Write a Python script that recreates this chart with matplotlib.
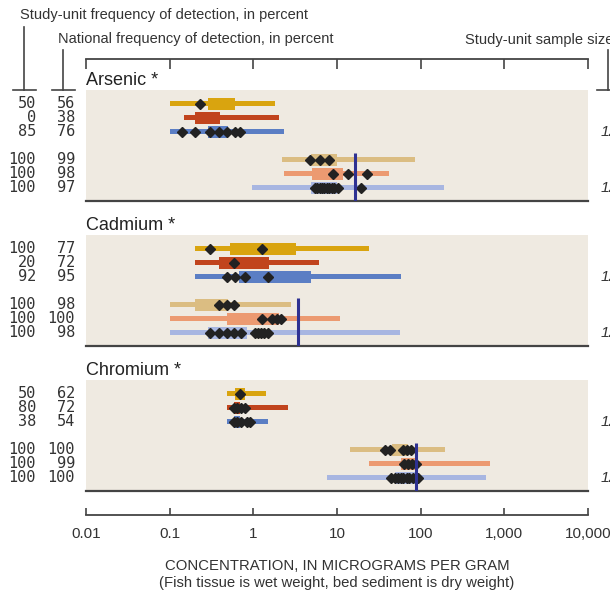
import matplotlib
matplotlib.use("Agg")
import matplotlib.pyplot as plt
from matplotlib.lines import Line2D
from matplotlib.ticker import FixedLocator, FixedFormatter
from matplotlib.transforms import blended_transform_factory

W, H = 610, 592

# ---- data ----
elements = ["Arsenic *", "Cadmium *", "Chromium *"]
row_pos = [0, 1, 2, 4, 5, 6]
row_colors = ["#D9A40F", "#C1441D", "#5B7EC4", "#DBBD82", "#EC9A71", "#A8B6E1"]

study_freq = {
    "Arsenic *": [50, 0, 85, 100, 100, 100],
    "Cadmium *": [100, 20, 92, 100, 100, 100],
    "Chromium *": [50, 80, 38, 100, 100, 100],
}
national_freq = {
    "Arsenic *": [56, 38, 76, 99, 98, 97],
    "Cadmium *": [77, 72, 95, 98, 100, 98],
    "Chromium *": [62, 72, 54, 100, 99, 100],
}
# sample sizes are cut off at the right edge of the picture
sample_size = {
    "Arsenic *": ["12", "12"],
    "Cadmium *": ["12", "12"],
    "Chromium *": ["12", "12"],
}
whisker_lo = {
    "Arsenic *": [0.1, 0.147, 0.1, 2.2, 2.3, 0.97],
    "Cadmium *": [0.2, 0.2, 0.2, 0.1, 0.1, 0.1],
    "Chromium *": [0.49, 0.49, 0.49, 14.3, 24, 7.6],
}
whisker_hi = {
    "Arsenic *": [1.8, 2.0, 2.3, 85, 42, 190],
    "Cadmium *": [24, 6.1, 58, 2.8, 10.9, 56],
    "Chromium *": [1.43, 2.6, 1.5, 193, 680, 610],
}
box_lo = {
    "Arsenic *": [0.29, 0.20, 0.29, 4.9, 5.0, 4.9],
    "Cadmium *": [0.52, 0.39, 0.68, 0.2, 0.49, 0.29],
    "Chromium *": [0.61, 0.58, 0.58, 46, 58, 50],
}
box_hi = {
    "Arsenic *": [0.61, 0.40, 0.50, 10, 11.8, 10],
    "Cadmium *": [3.2, 1.55, 4.9, 0.5, 2.0, 0.83],
    "Chromium *": [0.80, 0.70, 0.70, 70, 85, 85],
}
detects = {
    "Arsenic *": [[0.23], [], [0.14, 0.20, 0.30, 0.39, 0.49, 0.61, 0.70],
                  [4.8, 6.3, 8.0], [9.0, 13.5, 22.8],
                  [5.4, 5.8, 6.2, 6.6, 7.0, 7.5, 8.0, 8.6, 9.3, 10.2, 19.3]],
    "Cadmium *": [[0.30, 1.28], [0.59], [0.49, 0.61, 0.80, 1.5],
                  [0.39, 0.49, 0.59], [1.28, 1.68, 1.94, 2.15],
                  [0.30, 0.39, 0.49, 0.59, 0.72, 1.06, 1.14, 1.24, 1.34, 1.5]],
    "Chromium *": [[0.70], [0.58, 0.64, 0.72, 0.80], [0.58, 0.64, 0.72, 0.83, 0.92],
                   [37, 43, 61, 68, 76], [64, 71, 78, 87],
                   [44, 49, 53, 58, 62, 68, 73, 80, 92]],
}
guideline = {"Arsenic *": 16.4, "Cadmium *": 3.4, "Chromium *": 87}

xticks = [0.01, 0.1, 1, 10, 100, 1000, 10000]
xtick_labels = ["0.01", "0.1", "1", "10", "100", "1,000", "10,000"]

# ---- layout (pixel boxes) ----
X0, X1 = 86, 588
panel_tops = [90, 235, 380]
PANEL_H = 111

SANS = "Liberation Sans"
MONO = "DejaVu Sans Mono"
TXT = "#333333"
BG = "#EFEAE1"
FS = 10.5

plt.rcParams["font.family"] = SANS

fig = plt.figure(figsize=(W / 100, H / 100), dpi=100)


def box(left, top, right, bottom):
    return [left / W, 1 - bottom / H, (right - left) / W, (bottom - top) / H]


def pline(xs, ys, lw=1.2):
    fig.add_artist(Line2D([x / W for x in xs], [1 - y / H for y in ys],
                          transform=fig.transFigure, color="#444444", lw=lw))


for el, top in zip(elements, panel_tops):
    ax = fig.add_axes(box(X0, top, X1, top + PANEL_H))
    ax.set_facecolor(BG)
    ax.set_xscale("log")
    ax.set_xlim(0.01, 10000)
    ax.set_ylim(6.95, -1)
    for s in ["top", "left", "right"]:
        ax.spines[s].set_visible(False)
    ax.spines["bottom"].set_color("#444444")
    ax.spines["bottom"].set_linewidth(1.6)
    ax.tick_params(which="both", bottom=False, left=False,
                   labelbottom=False, labelleft=False)

    for i, y in enumerate(row_pos):
        c = row_colors[i]
        lo, hi = whisker_lo[el][i], whisker_hi[el][i]
        ax.barh(y, hi - lo, left=lo, height=0.36, color=c, zorder=2)
        q1, q3 = box_lo[el][i], box_hi[el][i]
        ax.barh(y, q3 - q1, left=q1, height=0.86, color=c, zorder=3)
        d = detects[el][i]
        if d:
            ax.plot(d, [y] * len(d), "D", ms=5.4, color="#222222",
                    mec="#222222", zorder=4)
    ax.vlines(guideline[el], 3.5, 6.95, color="#2E3192", lw=2.2, zorder=5)

    ax.text(0.0, 1.01, el, transform=ax.transAxes, ha="left", va="bottom",
            fontsize=13, color="#222222")

    tr = blended_transform_factory(fig.transFigure, ax.transData)
    for i, y in enumerate(row_pos):
        ax.text(36 / W, y, str(study_freq[el][i]), transform=tr, ha="right",
                va="center", fontsize=11, family=MONO, color=TXT)
        ax.text(75 / W, y, str(national_freq[el][i]), transform=tr, ha="right",
                va="center", fontsize=11, family=MONO, color=TXT)
    for k, y in enumerate([row_pos[2], row_pos[5]]):
        ax.text(601 / W, y, sample_size[el][k], transform=tr, ha="left",
                va="center", fontsize=11, style="italic", color=TXT)

# header scale bar
axh = fig.add_axes(box(X0, 59, X1, 70))
axh.set_xscale("log")
axh.set_xlim(0.01, 10000)
axh.patch.set_visible(False)
for s in ["bottom", "left", "right"]:
    axh.spines[s].set_visible(False)
axh.spines["top"].set_color("#444444")
axh.spines["top"].set_linewidth(1.3)
axh.xaxis.set_major_locator(FixedLocator(xticks))
axh.minorticks_off()
axh.tick_params(axis="x", top=True, bottom=False, direction="in", length=7,
                width=1.2, color="#444444", labeltop=False, labelbottom=False)
axh.set_yticks([])

# bottom scale bar
axb = fig.add_axes(box(X0, 505, X1, 515))
axb.set_xscale("log")
axb.set_xlim(0.01, 10000)
axb.patch.set_visible(False)
for s in ["top", "left", "right"]:
    axb.spines[s].set_visible(False)
axb.spines["bottom"].set_color("#444444")
axb.spines["bottom"].set_linewidth(1.3)
axb.xaxis.set_major_locator(FixedLocator(xticks))
axb.xaxis.set_major_formatter(FixedFormatter(xtick_labels))
axb.minorticks_off()
axb.tick_params(axis="x", direction="in", length=5, width=1.2,
                color="#444444", pad=9, labelsize=11, labelcolor=TXT)
axb.set_yticks([])

fig.text(337 / W, 1 - 566 / H, "CONCENTRATION, IN MICROGRAMS PER GRAM",
         ha="center", va="center", fontsize=10.7, color=TXT)
fig.text(337 / W, 1 - 583 / H,
         "(Fish tissue is wet weight, bed sediment is dry weight)",
         ha="center", va="center", fontsize=10.7, color=TXT)

# column headers and brackets
fig.text(20 / W, 1 - 15 / H, "Study-unit frequency of detection, in percent",
         ha="left", va="center", fontsize=FS, color=TXT)
fig.text(58 / W, 1 - 39 / H, "National frequency of detection, in percent",
         ha="left", va="center", fontsize=FS, color=TXT)
fig.text(465 / W, 1 - 40 / H, "Study-unit sample size",
         ha="left", va="center", fontsize=FS, color=TXT)

pline([24, 24], [27, 90])
pline([13, 36], [90, 90])
pline([63, 63], [50, 90])
pline([52, 75], [90, 90])
pline([608, 608], [50, 90])
pline([597, 611], [90, 90])

fig.savefig("out.png", dpi=100)
